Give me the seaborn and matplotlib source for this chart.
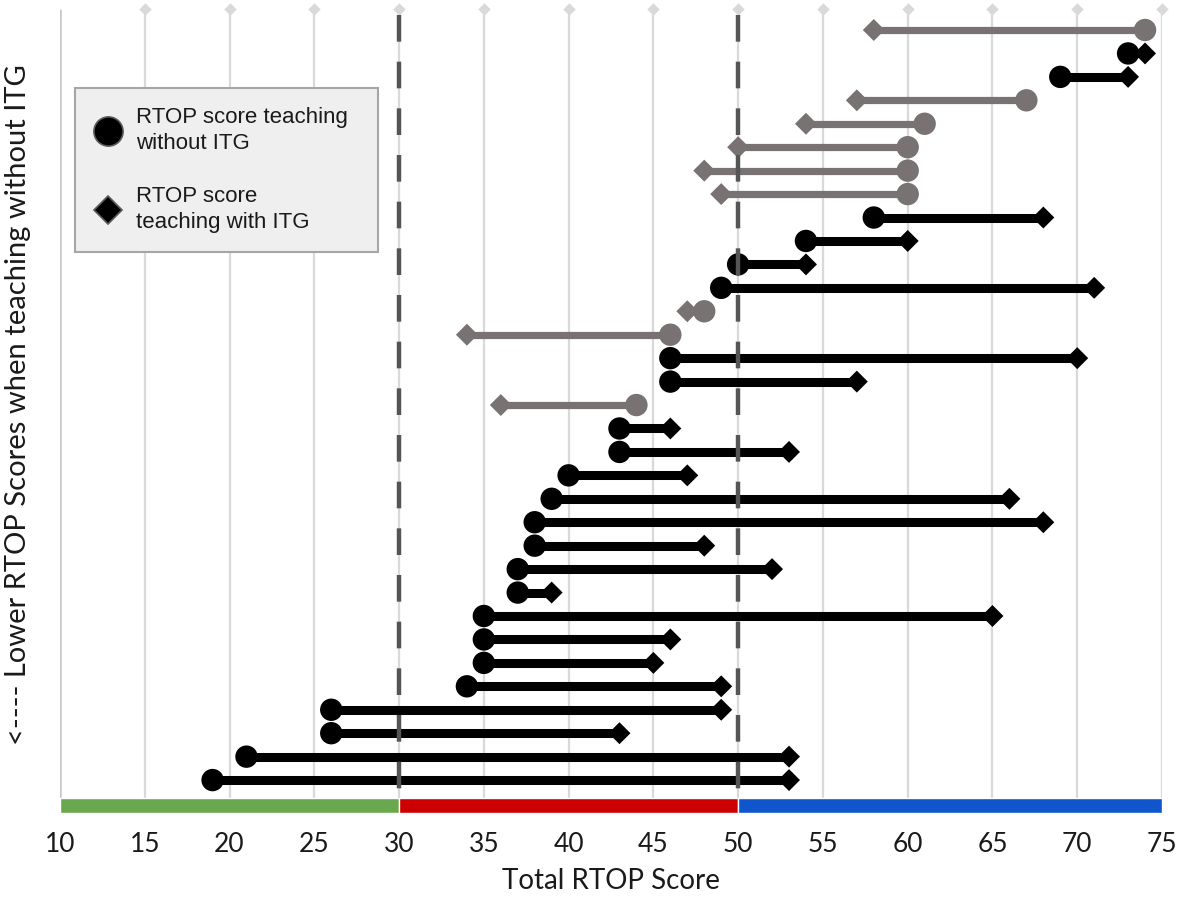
import numpy as np
import pandas as pd
import matplotlib
matplotlib.use("Agg")
import matplotlib.pyplot as plt
from matplotlib.lines import Line2D
import seaborn as sns

# ---------------- data ----------------
score_without_itg = [74, 73, 69, 67, 61, 60, 60, 60, 58, 54, 50, 49, 48, 46, 46, 46, 44,
                     43, 43, 40, 39, 38, 38, 37, 37, 35, 35, 35, 34, 26, 26, 21, 19]
score_with_itg = [58, 74, 73, 57, 54, 50, 48, 49, 68, 60, 54, 71, 47, 34, 70, 57, 36,
                  46, 53, 47, 66, 68, 48, 52, 39, 65, 46, 45, 49, 49, 43, 53, 53]
x_ticks = [10, 15, 20, 25, 30, 35, 40, 45, 50, 55, 60, 65, 70, 75]
cutoffs = [30, 50]
zone_edges = [10, 30, 50, 75]
zone_colors = ["#6aa84f", "#cc0000", "#1155cc"]

legend_labels = ["RTOP score teaching\nwithout ITG", "RTOP score\nteaching with ITG"]
x_label = "Total RTOP Score"
y_label = "<---- Lower RTOP Scores when teaching without ITG"

BLACK = "#000000"
GRAY = "#787272"

df = pd.DataFrame({"row": np.arange(len(score_without_itg)),
                   "without": score_without_itg,
                   "with": score_with_itg})
df["group"] = np.where(df["with"] >= df["without"], "up", "down")
palette = {"up": BLACK, "down": GRAY}

# ---------------- figure ----------------
sns.set_theme(style="white")
plt.rcParams["font.family"] = ["Lato", "DejaVu Sans"]

W, H = 1181, 897
fig = plt.figure(figsize=(W / 100, H / 100), dpi=100)
ax_left, ax_right, ax_top, ax_bottom = 60, 1162, 9, 814
ax = fig.add_axes([ax_left / W, 1 - ax_bottom / H, (ax_right - ax_left) / W, (ax_bottom - ax_top) / H])

row0, row_step = 30, 23.44
y_top = (ax_top - row0) / row_step
y_bot = (ax_bottom - row0) / row_step
bar_top = (798 - row0) / row_step
bar_bot = (813 - row0) / row_step

ax.set_xlim(zone_edges[0], zone_edges[-1])
ax.set_ylim(y_bot, y_top)

# grid lines with diamond caps
ax.vlines(x_ticks[1:], y_top, bar_top, colors="#d9d9d9", linewidth=1.6, zorder=0)
ax.scatter(x_ticks[1:], [y_top] * (len(x_ticks) - 1), marker="D", s=40, color="#d9d9d9",
           clip_on=False, zorder=0, linewidths=0)
ax.vlines([x_ticks[0]], y_top, bar_top, colors="#c8c8c8", linewidth=1.8, zorder=0)

# zone bar
ax.broken_barh([(zone_edges[i], zone_edges[i + 1] - zone_edges[i]) for i in range(len(zone_colors))],
               (bar_top, bar_bot - bar_top), facecolors=zone_colors, zorder=1)

# connecting lines
for grp, lw in [("down", 5.2), ("up", 6.5)]:
    sub = df[df["group"] == grp]
    ax.hlines(sub["row"], sub["without"], sub["with"], colors=palette[grp], linewidth=lw,
              zorder=2, capstyle="butt")

# markers
sns.scatterplot(data=df, x="without", y="row", hue="group", palette=palette, marker="o",
                s=260, linewidth=0, legend=False, ax=ax, zorder=3)
sns.scatterplot(data=df, x="with", y="row", hue="group", palette=palette, marker="D",
                s=125, linewidth=0, legend=False, ax=ax, zorder=4)

# cutoff dashed lines
for c in cutoffs:
    ax.plot([c, c], [y_top + 0.25, bar_top], color="#555555", linewidth=3.2,
            dashes=(6.0, 4.5), zorder=5, solid_capstyle="butt", dash_capstyle="butt")

# axes styling
for s in ax.spines.values():
    s.set_visible(False)
ax.set_yticks([])
ax.set_xticks(x_ticks)
ax.tick_params(axis="x", length=0, pad=13, labelsize=19, labelcolor="#1a1a1a")
ax.set_xlabel(x_label, fontsize=20, color="#1a1a1a", labelpad=8)
ax.set_ylabel("")
fig.text(18 / W, 1 - 405 / H, y_label, rotation=90, ha="center", va="center",
         fontsize=21, color="#1a1a1a")

# legend
handles = [
    Line2D([], [], linestyle="none", marker="o", markersize=21, markerfacecolor="black",
           markeredgecolor="#5a5a5a", markeredgewidth=1.2),
    Line2D([], [], linestyle="none", marker="D", markersize=14.5, markerfacecolor="black",
           markeredgecolor="#5a5a5a", markeredgewidth=1.2),
]
leg = ax.legend(handles, legend_labels, loc="upper left",
                bbox_to_anchor=(75 / W, 1 - 255 / H, 303 / W, 167 / H),
                bbox_transform=fig.transFigure, mode="expand",
                borderaxespad=0, frameon=True, fancybox=False, framealpha=1,
                facecolor="#efefef", edgecolor="#a6a6a6", borderpad=0.85,
                handlelength=1.3, handletextpad=0.6, labelspacing=1.45,
                prop={"family": ["Liberation Sans", "DejaVu Sans"], "size": 16})
leg.get_frame().set_linewidth(1.5)
leg.set_zorder(10)
for t in leg.get_texts():
    t.set_color("#1a1a1a")
    t.set_linespacing(1.3)

fig.savefig("out.png", dpi=100)
